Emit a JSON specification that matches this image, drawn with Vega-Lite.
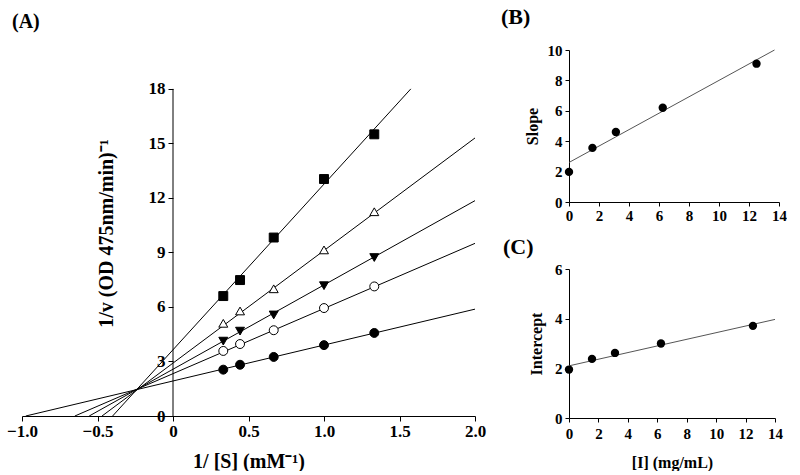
{
  "$schema": "https://vega.github.io/schema/vega-lite/v6.json",
  "background": "white",
  "padding": {"left": 6, "top": 6, "right": 0, "bottom": 0},
  "config": {
    "font": "Liberation Serif",
    "view": {"stroke": null},
    "axis": {"labelFont": "Liberation Serif", "labelFontWeight": "bold", "titleFont": "Liberation Serif", "titleFontWeight": "bold", "domainColor": "#000", "tickColor": "#000", "labelColor": "#000", "titleColor": "#000", "grid": false, "domainWidth": 1, "tickWidth": 1, "labelFlush": false, "labelOverlap": false, "labelBound": false},
    "title": {"font": "Liberation Serif", "fontWeight": "bold", "color": "#000", "anchor": "start", "frame": "group"}
  },
  "datasets": {
    "pointsA": [
      {"s": "I0", "x": 0.333, "y": 2.55}, {"s": "I0", "x": 0.444, "y": 2.82}, {"s": "I0", "x": 0.667, "y": 3.25}, {"s": "I0", "x": 1.0, "y": 3.9}, {"s": "I0", "x": 1.333, "y": 4.57},
      {"s": "I1", "x": 0.333, "y": 3.58}, {"s": "I1", "x": 0.444, "y": 3.96}, {"s": "I1", "x": 0.667, "y": 4.72}, {"s": "I1", "x": 1.0, "y": 5.94}, {"s": "I1", "x": 1.333, "y": 7.13},
      {"s": "I2", "x": 0.333, "y": 4.12}, {"s": "I2", "x": 0.444, "y": 4.67}, {"s": "I2", "x": 0.667, "y": 5.56}, {"s": "I2", "x": 1.0, "y": 7.17}, {"s": "I2", "x": 1.333, "y": 8.72},
      {"s": "I3", "x": 0.333, "y": 5.1}, {"s": "I3", "x": 0.444, "y": 5.78}, {"s": "I3", "x": 0.667, "y": 7.0}, {"s": "I3", "x": 1.0, "y": 9.14}, {"s": "I3", "x": 1.333, "y": 11.24},
      {"s": "I4", "x": 0.333, "y": 6.6}, {"s": "I4", "x": 0.444, "y": 7.48}, {"s": "I4", "x": 0.667, "y": 9.82}, {"s": "I4", "x": 1.0, "y": 13.04}, {"s": "I4", "x": 1.333, "y": 15.5}
    ],
    "linesA": [
      {"s": "I0", "x": -0.975, "y": 0}, {"s": "I0", "x": 2.0, "y": 5.88},
      {"s": "I1", "x": -0.65, "y": 0}, {"s": "I1", "x": 2.0, "y": 9.5},
      {"s": "I2", "x": -0.555, "y": 0}, {"s": "I2", "x": 2.0, "y": 11.85},
      {"s": "I3", "x": -0.47, "y": 0}, {"s": "I3", "x": 2.0, "y": 15.3},
      {"s": "I4", "x": -0.4, "y": 0}, {"s": "I4", "x": 1.575, "y": 18}
    ],
    "pointsB": [
      {"i": 0, "v": 1.98}, {"i": 1.5625, "v": 3.56}, {"i": 3.125, "v": 4.61}, {"i": 6.25, "v": 6.2}, {"i": 12.5, "v": 9.1}
    ],
    "lineB": [{"i": 0, "v": 2.6}, {"i": 13.7, "v": 10}],
    "pointsC": [
      {"i": 0, "v": 1.95}, {"i": 1.5625, "v": 2.38}, {"i": 3.125, "v": 2.62}, {"i": 6.25, "v": 3.0}, {"i": 12.5, "v": 3.71}
    ],
    "lineC": [{"i": 0, "v": 2.1}, {"i": 14, "v": 3.97}]
  },
  "bounds": "flush",
  "spacing": 94,
  "hconcat": [
    {
      "title": {"text": "(A)", "fontSize": 20, "dx": -10, "dy": -14},
      "width": 453,
      "height": 366,
      "layer": [
        {
          "data": {"values": [{}]},
          "mark": {"type": "rule", "color": "black", "strokeWidth": 1},
          "encoding": {
            "x": {"datum": 0, "type": "quantitative"},
            "y": {"datum": 0, "type": "quantitative"},
            "y2": {"datum": 18}
          }
        },
        {
          "data": {"name": "linesA"},
          "mark": {"type": "line", "color": "black", "strokeWidth": 1},
          "encoding": {
            "x": {"field": "x", "type": "quantitative", "scale": {"domain": [-1, 2], "nice": false, "zero": false},
              "axis": {"values": [-1, -0.5, 0, 0.5, 1, 1.5, 2], "labelExpr": "datum.value == 0 ? '0' : format(datum.value, '.1f')", "title": "1/ [S] (mM⁻¹)", "titleFontSize": 20, "labelFontSize": 17, "tickSize": 5, "labelPadding": 2, "titlePadding": 12, "labelOverlap": false}},
            "y": {"field": "y", "type": "quantitative", "scale": {"domain": [0, 20.14], "nice": false},
              "axis": {"values": [0, 3, 6, 9, 12, 15, 18], "offset": -151, "domain": false, "title": "1/v (OD 475nm/min)⁻¹", "titleFontSize": 20, "labelFontSize": 17, "tickSize": 5, "labelPadding": 3, "titlePadding": 32, "labelOverlap": false}},
            "detail": {"field": "s"}
          }
        },
        {
          "data": {"name": "pointsA"},
          "mark": {"type": "point", "filled": true, "opacity": 1, "stroke": "black", "strokeWidth": 1},
          "encoding": {
            "x": {"field": "x", "type": "quantitative"},
            "y": {"field": "y", "type": "quantitative"},
            "shape": {"field": "s", "type": "nominal", "scale": {"domain": ["I0", "I1", "I2", "I3", "I4"], "range": ["circle", "circle", "triangle-down", "triangle-up", "square"]}, "legend": null},
            "fill": {"field": "s", "type": "nominal", "scale": {"domain": ["I0", "I1", "I2", "I3", "I4"], "range": ["black", "white", "black", "white", "black"]}, "legend": null},
            "size": {"field": "s", "type": "nominal", "scale": {"domain": ["I0", "I1", "I2", "I3", "I4"], "range": [80, 80, 80, 90, 75]}, "legend": null}
          }
        }
      ]
    },
    {
      "vconcat": [
        {
          "title": {"text": "(B)", "fontSize": 22, "dx": -68, "dy": -10},
          "width": 210,
          "height": 152,
          "layer": [
            {
              "data": {"name": "lineB"},
              "mark": {"type": "line", "color": "#555", "strokeWidth": 1},
              "encoding": {
                "x": {"field": "i", "type": "quantitative", "scale": {"domain": [0, 14], "nice": false},
                  "axis": {"values": [0, 2, 4, 6, 8, 10, 12, 14], "tickCount": 8, "title": null, "labelFontSize": 15, "tickSize": 4, "labelPadding": 2, "labelOverlap": false}},
                "y": {"field": "v", "type": "quantitative", "scale": {"domain": [0, 10], "nice": false},
                  "axis": {"values": [0, 2, 4, 6, 8, 10], "tickCount": 6, "title": "Slope", "titleFontSize": 16, "labelFontSize": 15, "tickSize": 4, "labelPadding": 3, "titlePadding": 7, "labelOverlap": false}}
              }
            },
            {
              "data": {"name": "pointsB"},
              "mark": {"type": "circle", "color": "black", "opacity": 1, "size": 70},
              "encoding": {
                "x": {"field": "i", "type": "quantitative"},
                "y": {"field": "v", "type": "quantitative"}
              }
            }
          ]
        },
        {
          "title": {"text": "(C)", "fontSize": 22, "dx": -66, "dy": 1},
          "width": 206,
          "height": 149,
          "layer": [
            {
              "data": {"name": "lineC"},
              "mark": {"type": "line", "color": "#555", "strokeWidth": 1},
              "encoding": {
                "x": {"field": "i", "type": "quantitative", "scale": {"domain": [0, 14], "nice": false},
                  "axis": {"values": [0, 2, 4, 6, 8, 10, 12, 14], "tickCount": 8, "title": "[I] (mg/mL)", "titleFontSize": 16, "labelFontSize": 15, "tickSize": 4, "labelPadding": 4, "titlePadding": 13, "labelOverlap": false}},
                "y": {"field": "v", "type": "quantitative", "scale": {"domain": [0, 6], "nice": false},
                  "axis": {"values": [0, 2, 4, 6], "tickCount": 4, "title": "Intercept", "titleFontSize": 16, "labelFontSize": 15, "tickSize": 4, "labelPadding": 3, "titlePadding": 10, "labelOverlap": false}}
              }
            },
            {
              "data": {"name": "pointsC"},
              "mark": {"type": "circle", "color": "black", "opacity": 1, "size": 70},
              "encoding": {
                "x": {"field": "i", "type": "quantitative"},
                "y": {"field": "v", "type": "quantitative"}
              }
            }
          ]
        }
      ],
      "spacing": 67,
      "bounds": "flush"
    }
  ]
}
